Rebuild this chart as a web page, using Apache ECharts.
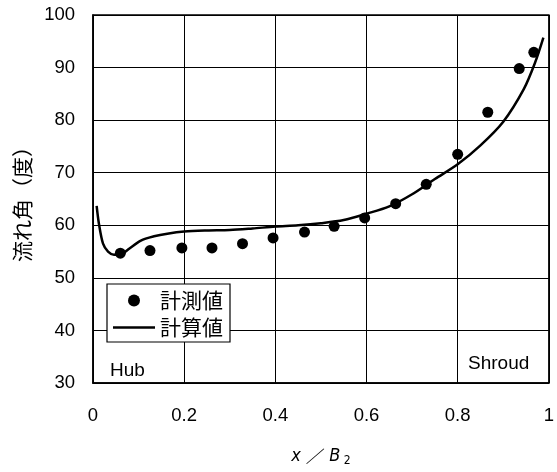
<!DOCTYPE html>
<html><head><meta charset="utf-8">
<script src="https://cdn.jsdelivr.net/npm/echarts@6/dist/echarts.min.js"></script>
<style>html,body{margin:0;padding:0;background:#fff}#c{width:557px;height:472px}</style>
</head><body><div id="c"></div>
<script>
// Measured values (計測値)
const measX = [0.060,0.125,0.195,0.261,0.328,0.395,0.464,0.529,0.596,0.664,0.731,0.800,0.866,0.935,0.967];
const measY = [54.7,55.2,55.7,55.7,56.5,57.6,58.7,59.8,61.4,64.1,67.8,73.5,81.5,89.8,92.9];
// Calculated values (計算値)
const calcX = [0.008,0.013,0.022,0.033,0.046,0.062,0.080,0.105,0.134,0.163,0.200,0.250,0.300,0.350,0.400,0.450,0.500,0.550,0.600,0.650,0.700,0.750,0.800,0.850,0.900,0.945,0.970,0.988];
const calcY = [63.7,60.3,56.5,55.0,54.4,54.5,55.6,57.1,57.9,58.4,58.8,59.0,59.1,59.4,59.75,60.0,60.4,61.0,62.2,63.6,65.9,68.8,71.6,75.2,79.7,85.9,91.0,95.7];
const xTicks = ['0','0.2','0.4','0.6','0.8','1'];
const yTicks = ['30','40','50','60','70','80','90','100'];
const seriesNames = ['計測値','計算値'];

const chart = echarts.init(document.getElementById('c'), null, {renderer:'canvas'});
const latin = 'Liberation Sans, Arial, sans-serif';
const cjk = '"Noto Sans CJK JP", sans-serif';
chart.setOption({
  animation:false,
  backgroundColor:'#fff',
  grid:{left:93,right:5,top:15,bottom:81,show:true,borderColor:'#000',borderWidth:1.5,backgroundColor:'transparent'},
  xAxis:{type:'value',min:0,max:1,interval:0.2,
    axisLine:{show:true,lineStyle:{color:'#000',width:1.5}},
    axisTick:{show:false},
    splitLine:{show:true,lineStyle:{color:'#000',width:1}},
    axisLabel:{color:'#000',fontSize:18.5,fontFamily:latin,margin:23,
      formatter:(v)=>xTicks[Math.round(v/0.2)]},
    name:'{a|x ／ B}{b| 2}',nameLocation:'middle',nameGap:62,
    nameTextStyle:{rich:{a:{fontSize:18,fontStyle:'italic',fontFamily:'DejaVu Sans Condensed, DejaVu Sans',color:'#000'},
      b:{fontSize:12,fontFamily:'DejaVu Sans Condensed, DejaVu Sans',color:'#000',padding:[10,0,0,0]}}}
  },
  yAxis:{type:'value',min:30,max:100,interval:10,
    axisLine:{show:true,lineStyle:{color:'#000',width:1.5}},
    axisTick:{show:false},
    splitLine:{show:true,lineStyle:{color:'#000',width:1}},
    axisLabel:{color:'#000',fontSize:18.5,fontFamily:latin,margin:18,
      formatter:(v)=>yTicks[Math.round((v-30)/10)]},
    name:'流れ角（度）',nameLocation:'middle',nameGap:60,nameRotate:90,
    nameTextStyle:{color:'#000',fontSize:21,fontFamily:cjk}
  },
  legend:{orient:'vertical',left:107,top:284,itemWidth:42,itemHeight:12,itemGap:6,
    padding:[6,7,4,6],backgroundColor:'#fff',borderColor:'#000',borderWidth:1.2,borderRadius:0,
    textStyle:{color:'#000',fontSize:21,fontFamily:cjk,lineHeight:21},
    data:[{name:seriesNames[0]},{name:seriesNames[1],icon:'path://M0,0L42,0L42,2.5L0,2.5Z'}]},
  graphic:[
    {type:'text',left:110,top:361,style:{text:'Hub',fill:'#000',font:'19px Liberation Sans, Arial, sans-serif'}},
    {type:'text',left:468,top:354,style:{text:'Shroud',fill:'#000',font:'19px Liberation Sans, Arial, sans-serif'}}
  ],
  series:[
    {name:seriesNames[0],type:'scatter',symbol:'circle',symbolSize:11,itemStyle:{color:'#000',opacity:1},
      data:measX.map((x,i)=>[x,measY[i]]),z:3},
    {name:seriesNames[1],type:'line',symbol:'none',smooth:0.3,lineStyle:{color:'#000',width:2.5},itemStyle:{color:'#000'},
      data:calcX.map((x,i)=>[x,calcY[i]]),z:2}
  ]
});
</script></body></html>
